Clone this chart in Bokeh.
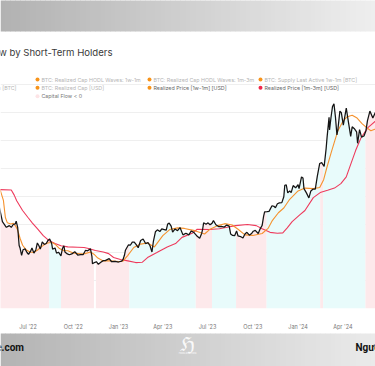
import numpy as np
import pandas as pd
from bokeh.plotting import figure
from bokeh.models import Range1d, FixedTicker, DatetimeTickFormatter, MonthsTicker
from bokeh.layouts import column
from bokeh.core.properties import value
from bokeh.embed import file_html
from bokeh.resources import INLINE

# ---------------- data ----------------
price_dates = ["2022-05-01","2022-05-10","2022-05-18","2022-05-24","2022-05-28","2022-06-01","2022-06-05","2022-06-07",
 "2022-06-10","2022-06-13","2022-06-15","2022-06-18","2022-06-21","2022-06-25","2022-06-29","2022-07-02","2022-07-06",
 "2022-07-09","2022-07-13","2022-07-17","2022-07-20","2022-07-23","2022-07-26","2022-07-30","2022-08-03","2022-08-07",
 "2022-08-11","2022-08-14","2022-08-18","2022-08-20","2022-08-25","2022-08-28","2022-09-01","2022-09-06","2022-09-09",
 "2022-09-12","2022-09-14","2022-09-19","2022-09-23","2022-09-28","2022-10-04","2022-10-10","2022-10-16","2022-10-21",
 "2022-10-26","2022-10-30","2022-11-05","2022-11-08","2022-11-09","2022-11-13","2022-11-17","2022-11-21","2022-11-26",
 "2022-12-01","2022-12-05","2022-12-13","2022-12-18","2022-12-25","2023-01-01","2023-01-07","2023-01-10","2023-01-13",
 "2023-01-15","2023-01-21","2023-01-25","2023-01-29","2023-02-02","2023-02-06","2023-02-10","2023-02-15","2023-02-20",
 "2023-02-25","2023-03-02","2023-03-06","2023-03-10","2023-03-13","2023-03-17","2023-03-21","2023-03-26","2023-03-30",
 "2023-04-04","2023-04-08","2023-04-11","2023-04-14","2023-04-18","2023-04-21","2023-04-26","2023-05-01","2023-05-06",
 "2023-05-12","2023-05-18","2023-05-24","2023-05-29","2023-06-03","2023-06-07","2023-06-10","2023-06-15","2023-06-19",
 "2023-06-21","2023-06-23","2023-06-28","2023-07-02","2023-07-06","2023-07-10","2023-07-13","2023-07-18","2023-07-24",
 "2023-07-29","2023-08-04","2023-08-09","2023-08-14","2023-08-17","2023-08-21","2023-08-25","2023-08-29","2023-09-01",
 "2023-09-06","2023-09-11","2023-09-15","2023-09-19","2023-09-24","2023-09-29","2023-10-02","2023-10-06","2023-10-12",
 "2023-10-16","2023-10-20","2023-10-23","2023-10-25","2023-10-30","2023-11-03","2023-11-09","2023-11-13","2023-11-16",
 "2023-11-20","2023-11-24","2023-11-29","2023-12-03","2023-12-05","2023-12-08","2023-12-11","2023-12-15","2023-12-18",
 "2023-12-22","2023-12-27","2024-01-01","2024-01-03","2024-01-08","2024-01-11","2024-01-13","2024-01-18","2024-01-23",
 "2024-01-27","2024-01-31","2024-02-05","2024-02-09","2024-02-14","2024-02-18","2024-02-23","2024-02-27","2024-02-29",
 "2024-03-04","2024-03-05","2024-03-08","2024-03-11","2024-03-14","2024-03-17","2024-03-20","2024-03-22","2024-03-26",
 "2024-03-29","2024-04-02","2024-04-08","2024-04-12","2024-04-17","2024-04-20","2024-04-24","2024-04-29","2024-05-01",
 "2024-05-05","2024-05-09","2024-05-14","2024-05-18","2024-05-21","2024-05-26","2024-06-01","2024-06-06","2024-06-10"]
price_usd = [38.5,31.0,29.0,29.6,29.0,30.0,30.2,31.2,
 29.0,22.5,21.5,19.0,21.0,21.3,20.0,19.3,20.4,
 21.6,19.8,21.0,23.4,22.5,21.2,23.8,22.9,23.2,
 24.4,24.8,23.3,21.2,21.6,19.8,20.1,18.8,21.4,
 22.4,20.2,19.5,19.2,19.5,20.3,19.1,19.2,19.2,
 20.8,20.6,21.3,18.5,16.0,16.4,16.7,15.8,16.5,
 17.1,17.1,17.8,16.7,16.8,16.6,16.9,17.4,19.0,
 20.8,22.7,22.6,23.7,23.7,22.8,21.7,24.3,24.8,
 23.2,23.5,22.4,20.2,24.1,27.4,28.1,27.5,28.4,
 28.2,28.0,30.2,30.5,29.4,27.3,28.4,27.8,28.9,
 26.3,26.9,26.3,27.7,27.2,26.4,25.8,25.1,26.8,
 28.3,30.6,30.1,30.6,29.9,30.4,31.4,29.9,29.2,
 29.3,29.1,29.8,29.4,26.6,26.1,26.0,27.7,25.9,
 25.7,25.2,26.6,27.2,26.2,26.9,27.6,27.9,26.8,
 28.5,29.7,33.0,34.5,34.6,34.7,36.7,36.5,36.0,
 37.4,37.7,37.8,39.9,44.0,44.2,41.3,42.0,41.4,
 43.9,43.1,44.2,42.8,47.0,46.6,42.8,41.3,39.5,
 42.0,42.6,42.6,47.1,51.8,52.1,50.7,57.0,61.2,
 68.3,63.8,68.3,72.1,73.1,68.4,62.0,64.0,70.5,
 69.9,65.5,71.6,67.0,61.5,64.9,64.3,63.1,59.0,
 63.9,61.2,61.6,63.5,67.0,70.5,68.0,70.0,67.5]

rp_1w1m_dates = ["2022-05-01","2022-05-06","2022-05-12","2022-05-16","2022-05-20","2022-05-27","2022-06-01","2022-06-06",
 "2022-06-10","2022-06-15","2022-06-20","2022-06-27","2022-07-05","2022-07-12","2022-07-20","2022-07-28","2022-08-05",
 "2022-08-12","2022-08-20","2022-08-26","2022-09-03","2022-09-12","2022-09-20","2022-10-01","2022-10-15","2022-10-25",
 "2022-11-05","2022-11-12","2022-11-20","2022-12-01","2022-12-15","2023-01-01","2023-01-10","2023-01-20","2023-02-01",
 "2023-02-15","2023-03-01","2023-03-15","2023-04-01","2023-04-15","2023-05-01","2023-05-15","2023-06-05","2023-06-25",
 "2023-07-05","2023-07-20","2023-08-05","2023-08-20","2023-09-01","2023-09-15","2023-10-01","2023-10-20","2023-11-01",
 "2023-11-10","2023-11-22","2023-12-03","2023-12-15","2024-01-01","2024-01-15","2024-02-01","2024-02-14","2024-02-22",
 "2024-02-28","2024-03-08","2024-03-14","2024-03-22","2024-04-01","2024-04-10","2024-04-20","2024-04-30","2024-05-10",
 "2024-05-20","2024-05-28","2024-06-05","2024-06-10"]
rp_1w1m = [43.0,42.0,38.6,32.5,30.6,30.2,30.4,29.4,
 28.0,25.0,22.6,21.0,20.2,20.0,20.8,22.0,23.0,
 23.5,23.5,22.8,21.4,20.6,20.6,19.8,19.5,19.6,
 20.2,19.4,18.0,17.0,17.0,16.8,16.9,19.0,21.8,
 23.0,23.4,22.0,26.0,28.2,28.8,28.6,27.8,26.6,
 28.2,29.5,30.3,29.8,28.3,26.3,26.1,26.8,28.6,
 31.5,34.2,35.9,39.0,42.0,43.0,42.8,43.2,46.0,
 50.0,55.5,59.0,63.5,66.8,68.5,69.0,68.0,66.0,
 64.5,63.5,64.0,64.3]

rp_1m3m_dates = ["2022-05-01","2022-05-28","2022-06-03","2022-06-08","2022-06-20","2022-07-01","2022-07-10","2022-07-20",
 "2022-08-01","2022-08-12","2022-08-25","2022-09-06","2022-09-20","2022-10-10","2022-10-23","2022-11-01","2022-11-15",
 "2022-12-01","2022-12-12","2022-12-22","2023-01-05","2023-01-20","2023-02-05","2023-02-18","2023-03-01","2023-03-20",
 "2023-04-10","2023-04-27","2023-05-10","2023-06-01","2023-06-10","2023-07-05","2023-07-25","2023-08-10","2023-08-27",
 "2023-09-20","2023-10-08","2023-10-20","2023-11-05","2023-11-20","2023-12-01","2023-12-10","2023-12-20","2024-01-05",
 "2024-01-15","2024-02-01","2024-02-15","2024-03-01","2024-03-15","2024-03-28","2024-04-08","2024-04-15","2024-04-27",
 "2024-05-08","2024-05-22","2024-06-10"]
rp_1m3m = [42.5,42.3,40.5,38.5,35.0,32.5,30.5,28.5,
 26.0,24.3,23.2,22.4,22.0,21.9,21.8,21.4,20.7,
 20.2,19.6,18.2,17.5,17.0,16.4,16.5,18.2,20.0,
 22.0,23.2,25.4,27.0,28.3,28.2,28.5,29.0,29.6,
 30.0,29.6,28.5,27.2,26.9,27.0,28.8,31.0,33.5,
 35.0,39.6,41.4,42.2,43.0,44.6,47.0,50.5,56.4,
 61.0,64.6,67.5]

flow_start = ["2022-05-01","2022-08-13","2022-09-06","2022-11-12","2022-11-16","2023-01-23","2023-06-07","2023-07-10",
 "2023-08-28","2023-10-29","2024-02-15","2024-02-21","2024-05-17","2024-06-10"]
flow_sign = [-1, 1, -1, 0, -1, 1, -1, 1, -1, 1, -1, 1, -1]

grid_levels = [10000, 20000, 30000, 40000, 50000, 60000, 70000, 80000]

title_text = "Capital Flow by Short-Term Holders"
legend_rows = [
    [("BTC: Realized Cap HODL Waves: 1w-1m", "#f7931a", "#b5b5b5"),
     ("BTC: Realized Cap HODL Waves: 1m-3m", "#f7931a", "#b5b5b5"),
     ("BTC: Supply Last Active 1w-1m [BTC]", "#f7931a", "#b5b5b5")],
    [("BTC: Realized Cap [USD]", "#f7931a", "#b5b5b5"),
     ("Realized Price [1w-1m] [USD]", "#f7931a", "#666666"),
     ("Realized Price [1m-3m] [USD]", "#f0284a", "#666666")],
    [("Capital Flow < 0", "#fde4e6", "#777777")],
]
legend_cut_text = "BTC: Supply Last Active 1m-3m [BTC]"

# ---------------- figure ----------------
W = 375
x0 = pd.Timestamp("2022-05-06 02:00")
x1 = pd.Timestamp("2024-06-06 10:00")

p = figure(width=W, height=333, x_axis_type="datetime",
           x_range=Range1d(x0, x1), y_range=Range1d(0, 110000),
           output_backend="svg", toolbar_location=None,
           min_border_left=0, min_border_right=0, min_border_top=0, min_border_bottom=25)
p.extra_x_ranges = {"px": Range1d(0, W)}
p.extra_y_ranges = {"px": Range1d(308, 0)}
p.outline_line_color = None
p.background_fill_color = "white"
p.border_fill_color = "white"
p.yaxis.visible = False
p.xgrid.visible = False
p.ygrid.ticker = FixedTicker(ticks=grid_levels)
p.ygrid.grid_line_color = "#efefef"
p.ygrid.grid_line_width = 1

p.xaxis.ticker = MonthsTicker(months=[0, 3, 6, 9])
p.xaxis.formatter = DatetimeTickFormatter(months="%b '%y", days="%b '%y", years="%b '%y")
p.xaxis.axis_line_color = None
p.xaxis.major_tick_line_color = None
p.xaxis.minor_tick_line_color = None
p.xaxis.major_label_text_font = "Inter"
p.xaxis.major_label_text_font_size = "5.5px"
p.xaxis.major_label_text_color = "#777777"
p.xaxis.major_label_standoff = 9

# header gradient band
n = 75
xs = np.linspace(0, W, n + 1)
def grad(c0, c1, t):
    return "#%02x%02x%02x" % tuple(int(round(a + (b - a) * t)) for a, b in zip(c0, c1))
hdr_cols = [grad((0xb2, 0xb2, 0xb2), (0xee, 0xee, 0xee), i / (n - 1)) for i in range(n)]
p.quad(left=xs[:-1], right=xs[1:] + 0.5, top=-2, bottom=31, fill_color=hdr_cols, line_color=None,
       x_range_name="px", y_range_name="px")

# capital flow shading under price
pd_ms = pd.to_datetime(price_dates).astype("int64") // 10**6
pv = np.array(price_usd) * 1000
fs = pd.to_datetime(flow_start).astype("int64") // 10**6
for i, s in enumerate(flow_sign):
    if s == 0:
        continue
    a, b = fs[i], fs[i + 1]
    inner = [t for t in pd_ms if a < t < b]
    xx = np.array([a] + inner + [b], dtype=float)
    yy = np.interp(xx, pd_ms.astype(float), pv)
    p.varea(x=pd.to_datetime(xx, unit="ms"), y1=0, y2=yy,
            fill_color="#fde9eb" if s < 0 else "#e8fbfb")

# lines
p.line(pd.to_datetime(rp_1m3m_dates), np.array(rp_1m3m) * 1000, line_color="#ee3a5c", line_width=1.1)
p.line(pd.to_datetime(rp_1w1m_dates), np.array(rp_1w1m) * 1000, line_color="#f5922e", line_width=1.1)
p.line(pd.to_datetime(price_dates), pv, line_color="#141414", line_width=1.25)

# title
p.text(x=[112], y=[52], text=[title_text], text_font=value("Inter"), text_font_size="9.6px",
       text_color="#3a3a3a", text_align="right", text_baseline="middle",
       x_range_name="px", y_range_name="px")

# legend
row_y = [79, 87.3, 95.7]
col_dot = [37, 149, 260]
for r, row in enumerate(legend_rows):
    for c, (txt, dot, tc) in enumerate(row):
        p.scatter(x=[col_dot[c]], y=[row_y[r]], size=4, fill_color=dot, line_color=None,
                  x_range_name="px", y_range_name="px")
        p.text(x=[col_dot[c] + 4], y=[row_y[r]], text=[txt], text_font=value("Inter"),
               text_font_size="5.3px", text_color=tc, text_baseline="middle", text_align="left",
               x_range_name="px", y_range_name="px")
p.text(x=[16], y=[row_y[1]], text=[legend_cut_text], text_font=value("Inter"),
       text_font_size="5.3px", text_color="#b5b5b5", text_baseline="middle", text_align="right",
       x_range_name="px", y_range_name="px")

# ---------------- footer ----------------
f = figure(width=W, height=33, x_range=Range1d(0, W), y_range=Range1d(366, 333),
           output_backend="svg", toolbar_location=None, x_axis_location=None, y_axis_location=None,
           min_border_left=0, min_border_right=0, min_border_top=0, min_border_bottom=0)
f.outline_line_color = None
f.grid.visible = False
ftr_cols = [grad((0xb4, 0xb4, 0xb4), (0xea, 0xea, 0xea), i / (n - 1)) for i in range(n)]
f.quad(left=xs[:-1], right=xs[1:] + 0.5, top=332, bottom=367, fill_color=ftr_cols, line_color=None)
f.text(x=[23.5], y=[347], text=["e.com"], text_font=value("Roboto"), text_font_size="10px",
       text_font_style="bold", text_color="#111111", text_align="right", text_baseline="middle")
f.text(x=[355], y=[347], text=["Người"], text_font=value("Roboto"), text_font_size="10px",
       text_font_style="bold", text_color="#111111", text_align="left", text_baseline="middle")
f.text(x=[187], y=[343.5], text=["ℌ"], text_font=value("DejaVu Serif"), text_font_size="20px",
       text_color="#ffffff", text_alpha=0.9, text_align="center", text_baseline="middle")
f.text(x=[187], y=[353.5], text=["HODLSTATION"], text_font=value("Inter"), text_font_size="2.5px",
       text_color="#ffffff", text_align="center", text_baseline="middle")

layout = column(p, f, spacing=0)
open("out.html", "w").write(file_html(layout, INLINE))
